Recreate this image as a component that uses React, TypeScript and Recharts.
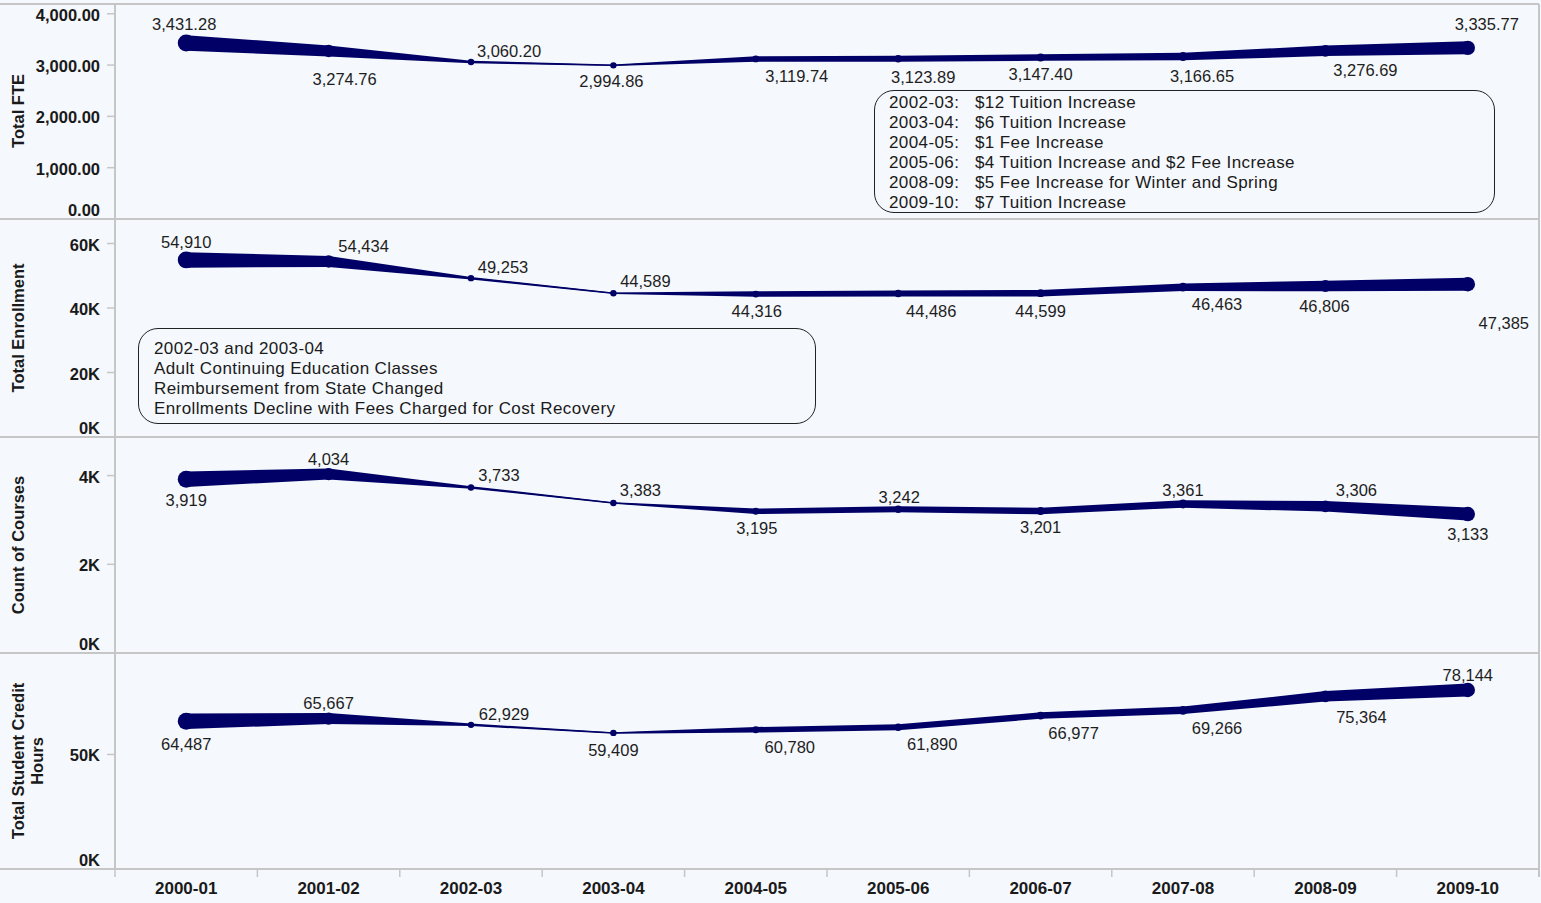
import React from 'react';
import { ComposedChart, Area, Line, XAxis, YAxis } from 'recharts';

const categories = ['2000-01', '2001-02', '2002-03', '2003-04', '2004-05', '2005-06', '2006-07', '2007-08', '2008-09', '2009-10'];

const totalFte = [3431.28, 3274.76, 3060.2, 2994.86, 3119.74, 3123.89, 3147.4, 3166.65, 3276.69, 3335.77];
const totalEnrollment = [54910, 54434, 49253, 44589, 44316, 44486, 44599, 46463, 46806, 47385];
const countOfCourses = [3919, 4034, 3733, 3383, 3195, 3242, 3201, 3361, 3306, 3133];
const creditHours = [64487, 65667, 62929, 59409, 60780, 61890, 66977, 69266, 75364, 78144];

const fteTicks = [0, 1000, 2000, 3000, 4000];
const enrollmentTicks = [0, 20000, 40000, 60000];
const courseTicks = [0, 2000, 4000];
const creditTicks = [0, 50000];

const fteNotes = [
  ['2002-03:', '$12 Tuition Increase'],
  ['2003-04:', '$6 Tuition Increase'],
  ['2004-05:', '$1 Fee Increase'],
  ['2005-06:', '$4 Tuition Increase and $2 Fee Increase'],
  ['2008-09:', '$5 Fee Increase for Winter and Spring'],
  ['2009-10:', '$7 Tuition Increase'],
];
const enrollmentNotes = [
  '2002-03 and 2003-04',
  'Adult Continuing Education Classes',
  'Reimbursement from State Changed',
  'Enrollments Decline with Fees Charged for Cost Recovery',
];

// line thickness per year in px (the size encoding)
const markSize = [15.5, 11, 2.5, 1.5, 5.5, 6, 6.5, 7.5, 10.5, 13];

// label placement relative to each point [dx, dy]
const fteLabelPos = [[-2, -19], [16, 28], [38, -11], [-2, 16], [41, 17], [25, 18], [0, 17], [19, 19], [40, 19], [19, -24]];
const enrollLabelPos = [[0, -18], [35, -15], [32, -11], [32, -12], [1, 17], [33, 17], [0, 18], [34, 17], [-1, 20], [36, 39]];
const courseLabelPos = [[0, 21], [0, -15], [28, -12], [27, -13], [1, 17], [1, -12], [0, 16], [0, -14], [31, -16], [0, 20]];
const creditLabelPos = [[0, 23], [0, -16], [33, -11], [0, 17], [34, 17], [34, 17], [33, 17], [34, 18], [36, 21], [0, -15]];

const NAVY = '#000066';
const BG = '#f5f8fc';
const GRID = '#c6c6c6';
const FONT = '"Liberation Sans", Arial, Helvetica, sans-serif';
const WIDTH = 1541;
const AXIS_W = 115;
const XAXIS_H = 34;

const nf2 = new Intl.NumberFormat('en-US', { minimumFractionDigits: 2, maximumFractionDigits: 2 });
const nf0 = new Intl.NumberFormat('en-US', { maximumFractionDigits: 0 });
const fmtK = (v: number) => `${v / 1000}K`;

const panels = [
  { key: 'fte', title: ['Total FTE'], values: totalFte, ticks: fteTicks, yMax: 4190, tickFmt: (v: number) => nf2.format(v), labelFmt: (v: number) => nf2.format(v), pos: fteLabelPos, height: 219, marginTop: 4, xAxis: false },
  { key: 'enr', title: ['Total Enrollment'], values: totalEnrollment, ticks: enrollmentTicks, yMax: 67600, tickFmt: fmtK, labelFmt: (v: number) => nf0.format(v), pos: enrollLabelPos, height: 218, marginTop: 0, xAxis: false },
  { key: 'crs', title: ['Count of Courses'], values: countOfCourses, ticks: courseTicks, yMax: 4870, tickFmt: fmtK, labelFmt: (v: number) => nf0.format(v), pos: courseLabelPos, height: 216, marginTop: 0, xAxis: false },
  { key: 'sch', title: ['Total Student Credit', 'Hours'], values: creditHours, ticks: creditTicks, yMax: 94300, tickFmt: fmtK, labelFmt: (v: number) => nf0.format(v), pos: creditLabelPos, height: 216 + XAXIS_H, marginTop: 0, xAxis: true },
];

const YTick = ({ x, y, payload, fmt }: any) => (
  <text
    x={x}
    y={payload.value === 0 ? y - 9 : y + 1}
    textAnchor="end"
    dominantBaseline="central"
    fontFamily={FONT}
    fontSize={16.5}
    fontWeight="bold"
    fill="#1a1a1a"
  >
    {fmt(payload.value)}
  </text>
);

const XTick = ({ x, y, payload, step }: any) => {
  const i = payload.value;
  return (
    <g>
      <line x1={x - step / 2} x2={x - step / 2} y1={y - 8} y2={y} stroke={GRID} strokeWidth={1.5} />
      {i === categories.length - 1 && (
        <line x1={x + step / 2} x2={x + step / 2} y1={y - 8} y2={y} stroke={GRID} strokeWidth={1.5} />
      )}
      <text x={x} y={y + 11} textAnchor="middle" dominantBaseline="central" fontFamily={FONT} fontSize={17} fontWeight="bold" fill="#1a1a1a">
        {categories[i]}
      </text>
    </g>
  );
};

const Panel = ({ p }: any) => {
  const plotH = p.height - p.marginTop - (p.xAxis ? XAXIS_H : 0);
  const unitsPerPx = p.yMax / plotH;
  const data = categories.map((c, i) => {
    const half = (markSize[i] / 2) * unitsPerPx;
    return { i, year: c, value: p.values[i], band: [p.values[i] - half, p.values[i] + half] };
  });
  const step = (WIDTH - AXIS_W - 2) / categories.length;

  const renderDot = (props: any) => {
    const { cx, cy, index, payload } = props;
    const r = Math.max(markSize[index] / 2, 2.5) + 0.7;
    const [dx, dy] = p.pos[index];
    return (
      <g key={`dot-${p.key}-${index}`}>
        <circle cx={cx} cy={cy} r={r} fill={NAVY} />
        <text x={cx + dx} y={cy + dy} textAnchor="middle" dominantBaseline="central" fontFamily={FONT} fontSize={16.5} fill="#1e1e1e">
          {p.labelFmt(payload.value)}
        </text>
      </g>
    );
  };

  return (
    <ComposedChart width={WIDTH} height={p.height} data={data} margin={{ top: p.marginTop, right: 2, bottom: 0, left: 0 }}>
      <XAxis
        type="number"
        dataKey="i"
        domain={[-0.5, categories.length - 0.5]}
        ticks={categories.map((_, i) => i)}
        interval={0}
        hide={!p.xAxis}
        height={XAXIS_H}
        tickLine={false}
        tickSize={8}
        tickMargin={0}
        axisLine={{ stroke: GRID, strokeWidth: 2 }}
        tick={<XTick step={step} />}
      />
      <YAxis
        type="number"
        width={AXIS_W}
        domain={[0, p.yMax]}
        ticks={p.ticks}
        interval={0}
        tickSize={8}
        tickMargin={7}
        tickLine={{ stroke: GRID, strokeWidth: 1.5 }}
        axisLine={{ stroke: GRID, strokeWidth: 2 }}
        tick={<YTick fmt={p.tickFmt} />}
      />
      <Area type="linear" dataKey="band" stroke="none" fill={NAVY} fillOpacity={1} isAnimationActive={false} activeDot={false} />
      <Line type="linear" dataKey="value" stroke={NAVY} strokeWidth={1} dot={renderDot} activeDot={false} isAnimationActive={false} />
    </ComposedChart>
  );
};

const titleCenters = [111, 328, 545, 761];
const separators = [4, 219, 437, 653, 869];

export default function App() {
  return (
    <div style={{ position: 'absolute', left: 0, top: 0, width: WIDTH, height: 903, background: BG, overflow: 'hidden' }}>
      {panels.map((p) => (
        <Panel key={p.key} p={p} />
      ))}
      <svg width={WIDTH} height={903} style={{ position: 'absolute', left: 0, top: 0, pointerEvents: 'none' }}>
        {separators.map((y) => (
          <line key={y} x1={0} x2={1539} y1={y} y2={y} stroke={GRID} strokeWidth={2} />
        ))}
        <line x1={1539} x2={1539} y1={4} y2={877} stroke={GRID} strokeWidth={2} />
        {panels.map((p, k) => {
          const cy = titleCenters[k];
          const xs = p.title.length === 1 ? [18] : [18, 37];
          return p.title.map((t: string, j: number) => (
            <text
              key={`${p.key}-${j}`}
              x={xs[j]}
              y={cy}
              transform={`rotate(-90 ${xs[j]} ${cy})`}
              textAnchor="middle"
              dominantBaseline="central"
              fontFamily={FONT}
              fontSize={16.5}
              fontWeight="bold"
              fill="#1a1a1a"
            >
              {t}
            </text>
          ));
        })}
      </svg>
      <div
        style={{
          position: 'absolute', left: 874, top: 90, width: 621, height: 123, boxSizing: 'border-box',
          border: '1px solid #222', borderRadius: 20, padding: '2px 0 0 14px',
          fontFamily: FONT, fontSize: 17, lineHeight: '20px', letterSpacing: '0.4px', color: '#1a1a1a',
        }}
      >
        {fteNotes.map(([y, t]) => (
          <div key={y} style={{ display: 'flex' }}>
            <span style={{ width: 86 }}>{y}</span>
            <span>{t}</span>
          </div>
        ))}
      </div>
      <div
        style={{
          position: 'absolute', left: 138, top: 328, width: 678, height: 96, boxSizing: 'border-box',
          border: '1px solid #222', borderRadius: 20, padding: '10px 0 0 15px',
          fontFamily: FONT, fontSize: 17, lineHeight: '20px', letterSpacing: '0.4px', color: '#1a1a1a',
        }}
      >
        {enrollmentNotes.map((t) => (
          <div key={t}>{t}</div>
        ))}
      </div>
    </div>
  );
}
